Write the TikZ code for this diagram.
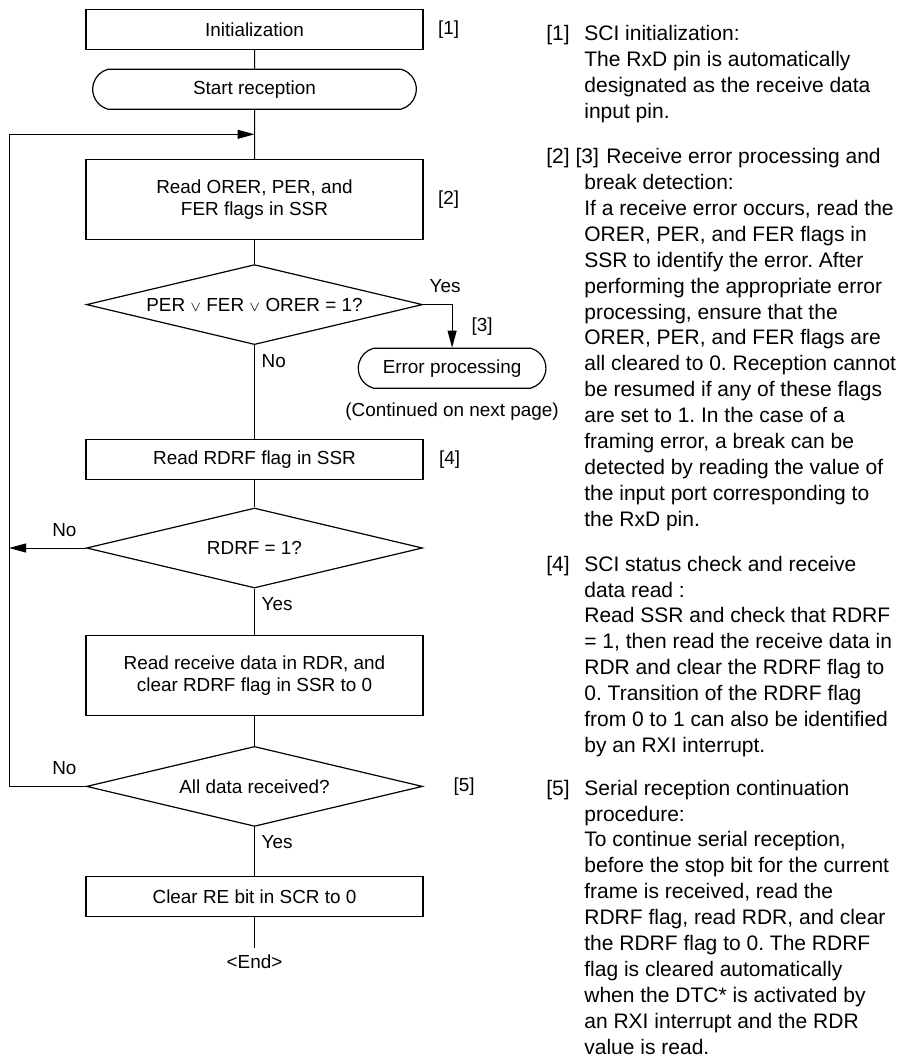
\documentclass[tikz,border=0pt]{standalone}
\usepackage{fontspec}
\setmainfont{Liberation Sans}
\usetikzlibrary{arrows.meta,positioning,shapes.geometric,shapes.misc,calc}

\begin{document}
\begin{tikzpicture}[
    x=0.5pt, y=-0.5pt,
    font=\fontsize{9.45pt}{11pt}\selectfont,
    stepbox/.style={rectangle, draw, line width=0.6pt, minimum width=168.5pt,
                 minimum height=20pt, align=center},
    tallbox/.style={stepbox, minimum height=40pt},
    termbox/.style={rounded rectangle, rounded rectangle arc length=150, draw,
                 line width=0.6pt, minimum height=20pt, align=center},
    decision/.style={diamond, draw, line width=0.6pt, aspect=4.2, inner sep=0pt,
                 minimum width=168pt, minimum height=40pt},
    tag/.style={inner sep=0pt},
    note/.style={font=\fontsize{10.5pt}{12.95pt}\selectfont\frenchspacing, align=left,
                 inner sep=0pt, anchor=north west},
    link/.style={line width=0.5pt},
    arr/.style={-{Triangle[length=8.5pt,width=4.5pt]}, line width=0.5pt},
]
    \useasboundingbox (0,0) rectangle (909,1056);

    % main column
    \node[stepbox] (init) at (254.5,29.5) {Initialization};
    \node[termbox, minimum width=168.5pt, below=9.25pt of init] (start) {Start reception};
    \node[tallbox, below=24.5pt of start] (orer) {Read ORER, PER, and\\FER flags in SSR};
    \node[decision, below=12pt of orer] (d1) {PER $\scriptstyle\vee$ FER $\scriptstyle\vee$ ORER = 1?};
    \node[stepbox, below=47pt of d1] (rdrf) {Read RDRF flag in SSR};
    \node[decision, below=13.5pt of rdrf] (d2) {RDRF = 1?};
    \node[tallbox, below=23pt of d2] (rrd) {Read receive data in RDR, and\\clear RDRF flag in SSR to 0};
    \node[decision, below=15pt of rrd] (d3) {All data received?};
    \node[stepbox, below=24.5pt of d3] (clr) {Clear RE bit in SCR to 0};
    \node[below=15.5pt of clr] (fin) {<End>};

    % error branch
    \node[termbox, minimum width=100.5pt, anchor=north] (err) at ([xshift=14.5pt,yshift=-21.5pt]d1.east) {Error processing};
    \node (cont) at ([yshift=-11.5pt]err.south) {(Continued on next page)};

    % step tags
    \node[tag, right=7pt of init] (t1) {[1]};
    \node[tag, right=7pt of orer] (t2) {[2]};
    \node[tag] (t3) at ([xshift=15pt,yshift=10.5pt]err.north) {[3]};
    \node[tag, right=7.5pt of rdrf] (t4) {[4]};
    \node[tag, right=15pt of d3] (t5) {[5]};

    \coordinate (join) at ($(start.south)!0.5!(orer.north)$);
    \coordinate (rail) at (9,0);

    \draw[link] (init) -- (start);
    \draw[link] (start) -- (orer);
    \draw[link] (orer) -- (d1);
    \draw[arr] (d1.east) -| node[above, pos=0.38, inner sep=5.5pt] {Yes} (err.north);
    \draw[link] (d1) -- node[right, pos=0.17] {No} (rdrf);
    \draw[link] (rdrf) -- (d2);
    \draw[arr] (d2.west) -- node[above, pos=0.28, inner sep=5.5pt] {No} (d2.west -| rail);
    \draw[link] (d2) -- node[right, pos=0.33] {Yes} (rrd);
    \draw[link] (rrd) -- (d3);
    \draw[arr] (d3.west) -- node[above, pos=0.28, inner sep=5.5pt] {No} (d3.west -| rail) |- (join);
    \draw[link] (d3) -- node[right, pos=0.31] {Yes} (clr);
    \draw[link] (clr) -- (fin);

    % notes
    \node[note] (p1) at (584,25) {SCI initialization:\\The RxD pin is automatically\\designated as the receive data\\input pin.};
    \node[note] (p2) at (584,148) {\hspace*{11pt}Receive error processing and\\break detection:\\If a receive error occurs, read the\\ORER, PER, and FER flags in\\SSR to identify the error. After\\performing the appropriate error\\processing, ensure that the\\ORER, PER, and FER flags are\\all cleared to 0. Reception cannot\\be resumed if any of these flags\\are set to 1. In the case of a\\framing error, a break can be\\detected by reading the value of\\the input port corresponding to\\the RxD pin.};
    \node[note] (p3) at (584,555.5) {SCI status check and receive\\data read :\\Read SSR and check that RDRF\\= 1, then read the receive data in\\RDR and clear the RDRF flag to\\0. Transition of the RDRF flag\\from 0 to 1 can also be identified\\by an RXI interrupt.};
    \node[note] (p4) at (584,779.5) {Serial reception continuation\\procedure:\\To continue serial reception,\\before the stop bit for the current\\frame is received, read the\\RDRF flag, read RDR, and clear\\the RDRF flag to 0. The RDRF\\flag is cleared automatically\\when the DTC* is activated by\\an RXI interrupt and the RDR\\value is read.};

    \node[note, anchor=north west] (n1) at ([xshift=-19pt]p1.north west) {[1]};
    \node[note, anchor=north west] (n2) at ([xshift=-19pt]p2.north west) {[2] [3]};
    \node[note, anchor=north west] (n4) at ([xshift=-19pt]p3.north west) {[4]};
    \node[note, anchor=north west] (n5) at ([xshift=-19pt]p4.north west) {[5]};
\end{tikzpicture}
\end{document}
